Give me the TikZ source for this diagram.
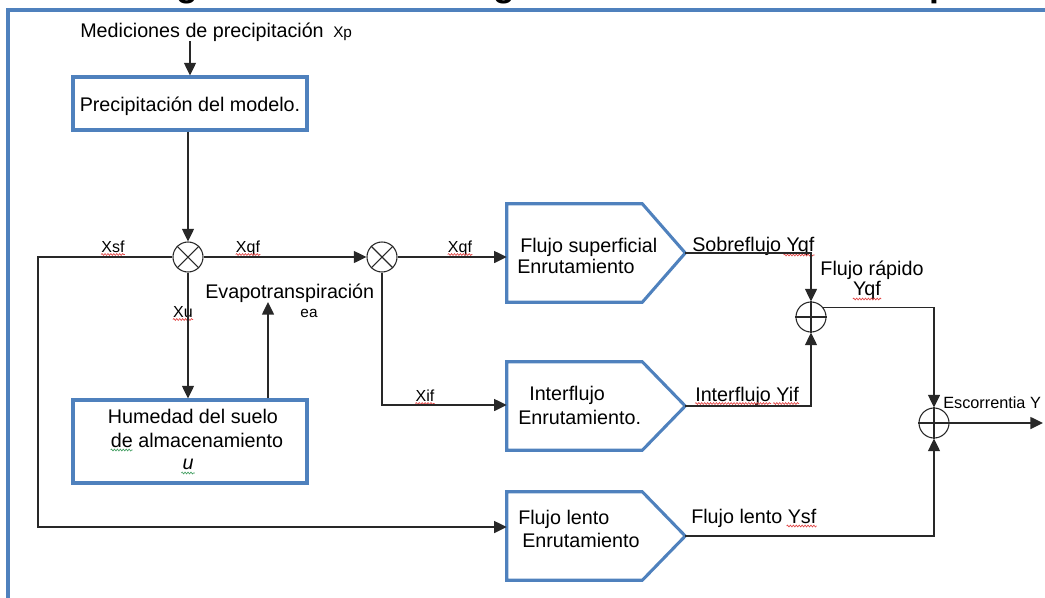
\documentclass[tikz,border=0pt]{standalone}
\usepackage{fontspec}
\setmainfont{Liberation Sans}
\usetikzlibrary{arrows.meta,calc,decorations.pathmorphing}
\definecolor{boxblue}{RGB}{79,129,189}
\definecolor{linegray}{RGB}{40,40,40}
\definecolor{spellred}{RGB}{225,70,70}
\definecolor{spellgreen}{RGB}{70,160,100}
\begin{document}
\begin{tikzpicture}[x=0.75pt,y=-0.75pt,
  txt/.style={font=\fontsize{14.8}{17}\selectfont, inner sep=0pt, text=black},
  lbl/.style={font=\fontsize{12}{14}\selectfont, inner sep=0pt, text=black},
  conn/.style={draw=linegray, line width=1.1pt},
  arr/.style={conn, -{Triangle[length=9.5pt,width=9pt]}},
  bluebox/.style={draw=boxblue, line width=2.3pt},
  body/.style={draw=none, inner sep=0pt, minimum width=101.25pt},
  opcirc/.style={circle, draw=linegray, line width=0.8pt, minimum size=22.5pt, inner sep=0pt},
  spell/.style={draw=spellred, line width=0.5pt, decorate, decoration={snake, segment length=2.2pt, amplitude=0.7pt}},
  spellg/.style={spell, draw=spellgreen}
]
\useasboundingbox (0,0) rectangle (1045,597);
% frame and clipped title
\node[anchor=base west, inner sep=0pt, font=\bfseries\fontsize{26.6}{30}\selectfont] (title) at (145,-3.5) {Figura 4. Estructura general del modelo conceptual};
\draw[boxblue, line width=2.3pt] (8,620) -- (8,10) -- (1060,10);

% boxes
\node[bluebox, minimum width=175.5pt, minimum height=39.75pt, inner sep=0pt] (prec) at (190,103.5) {};
\node[bluebox, minimum width=175.5pt, minimum height=62.25pt, inner sep=0pt] (hum) at (190,441.5) {};
\node[body, minimum height=73.5pt] (fs) at (574.5,253) {};
\node[body, minimum height=66pt] (if) at (574.5,406) {};
\node[body, minimum height=66pt] (fl) at (574.5,536) {};
\coordinate (fstip) at ($(fs.east)+(43,0)$);
\coordinate (iftip) at ($(if.east)+(43,0)$);
\coordinate (fltip) at ($(fl.east)+(43,0)$);
\draw[bluebox] (fs.north west) -- (fs.north east) -- (fstip) -- (fs.south east) -- (fs.south west) -- cycle;
\draw[bluebox] (if.north west) -- (if.north east) -- (iftip) -- (if.south east) -- (if.south west) -- cycle;
\draw[bluebox] (fl.north west) -- (fl.north east) -- (fltip) -- (fl.south east) -- (fl.south west) -- cycle;

% operators
\node[opcirc] (c1) at (188,257) {};
\node[opcirc] (c2) at (382,257) {};
\node[opcirc] (sA) at (811,317) {};
\node[opcirc] (sB) at (934,423) {};
\draw[linegray, line width=0.8pt] (c1.45) -- (c1.225) (c1.135) -- (c1.315);
\draw[linegray, line width=0.8pt] (c2.45) -- (c2.225) (c2.135) -- (c2.315);
\draw[linegray, line width=0.8pt] (sA.north) -- (sA.south) (sA.west) -- (sA.east);
\draw[linegray, line width=0.8pt] (sB.north) -- (sB.south) (sB.west) -- (sB.east);

% texts
\node[txt, anchor=base west] (med) at (80,37) {Mediciones de precipitación\hspace{3pt} {\fontsize{11.5}{13}\selectfont Xp}};
\node[txt, anchor=base] (prectxt) at (190,111) {Precipitación del modelo.};
\node[txt, anchor=base] (hum1) at (193,423) {Humedad del suelo};
\node[txt, anchor=base] (hum2) at (197,447) {de almacenamiento};
\node[txt, anchor=base] (hum3) at (188,469) {\itshape u};
\node[txt, anchor=base west] (evap) at (205,298) {Evapotranspiración};
\node[lbl, anchor=base, font=\fontsize{11.5}{13}\selectfont] (ea) at (309,317) {ea};
\node[lbl, anchor=base] (xsf) at (113,252) {Xsf};
\node[lbl, anchor=base] (xqf1) at (248,252) {Xqf};
\node[lbl, anchor=base] (xqf2) at (460,252) {Xqf};
\node[lbl, anchor=base] (xu) at (183,317) {Xu};
\node[lbl, anchor=base] (xif) at (425,401) {Xif};
\node[txt, anchor=base west] (fs1) at (520,252) {Flujo superficial};
\node[txt, anchor=base west] (fs2) at (517,273) {Enrutamiento};
\node[txt, anchor=base west] (if1) at (529,400) {Interflujo};
\node[txt, anchor=base west] (if2) at (518,424) {Enrutamiento.};
\node[txt, anchor=base west] (fl1) at (518,524) {Flujo lento};
\node[txt, anchor=base west] (fl2) at (522,547) {Enrutamiento};
\node[txt, anchor=base west] (sobre) at (692,251) {Sobreflujo Yqf};
\node[txt, anchor=base] (rap1) at (872,275) {Flujo rápido};
\node[txt, anchor=base] (rap2) at (867,295) {Yqf};
\node[txt, anchor=base west] (inty) at (695,401) {Interflujo Yif};
\node[txt, anchor=base west] (lenty) at (691,523) {Flujo lento Ysf};
\node[lbl, anchor=base west, font=\fontsize{12.2}{14}\selectfont] (esc) at (943,408) {Escorrentia Y};

% spell-check marks
\draw[spell] ($(xsf.base west)+(0,2.5)$) -- ($(xsf.base east)+(0,2.5)$);
\draw[spell] ($(xqf1.base west)+(0,2.5)$) -- ($(xqf1.base east)+(0,2.5)$);
\draw[spell] ($(xqf2.base west)+(0,2.5)$) -- ($(xqf2.base east)+(0,2.5)$);
\draw[spell] ($(xu.base west)+(0,2.5)$) -- ($(xu.base east)+(0,2.5)$);
\draw[spell] ($(xif.base west)+(0,2.5)$) -- ($(xif.base east)+(0,2.5)$);
\draw[spell] ($(sobre.base east)+(-31,4)$) -- ($(sobre.base east)+(0,4)$);
\draw[spell] ($(rap2.base west)+(0,4)$) -- ($(rap2.base east)+(0,4)$);
\draw[spell] ($(inty.base west)+(0,2.5)$) -- ($(inty.base west)+(76,2.5)$);
\draw[spell] ($(inty.base east)+(-26,2.5)$) -- ($(inty.base east)+(0,2.5)$);
\draw[spell] ($(lenty.base east)+(-30,3)$) -- ($(lenty.base east)+(0,3)$);
\draw[spellg] ($(hum2.base west)+(0,3)$) -- ($(hum2.base west)+(22,3)$);
\draw[spellg] ($(hum3.base west)+(-1,4)$) -- ($(hum3.base east)+(1,4)$);

% connectors
\coordinate (xsfA) at (38,257);
\coordinate (flin) at ($(fl.west)+(0,-9)$);
\coordinate (ifin) at ($(if.west)+(0,-1)$);
\coordinate (ettip) at (268,302);
\coordinate (out) at (1043,423);
\draw[arr] (prec.north |- med.south) -- (prec.north);
\draw[arr] (c1 |- prec.south) -- (c1.north);
\draw[arr] (c1.west) -- (xsfA) -- (xsfA |- flin) -- (flin);
\draw[arr] (c1.east) -- (c2.west);
\draw[arr] (c2.east) -- (c2.east -| fs.west);
\draw[arr] (c2.south) -- (c2.south |- ifin) -- (ifin);
\draw[arr] (c1.south) -- (c1.south |- hum.north);
\draw[arr] (ettip |- hum.north) -- (ettip);
\draw[arr] (fstip) -- (fstip -| sA) -- (sA.north);
\draw[arr] (iftip) -- (iftip -| sA) -- (sA.south);
\draw[arr] (sA.37) -- (sA.37 -| sB) -- (sB.north);
\draw[arr] (fltip) -- (fltip -| sB) -- (sB.south);
\draw[arr] (sB.east) -- (out);
\end{tikzpicture}
\end{document}
